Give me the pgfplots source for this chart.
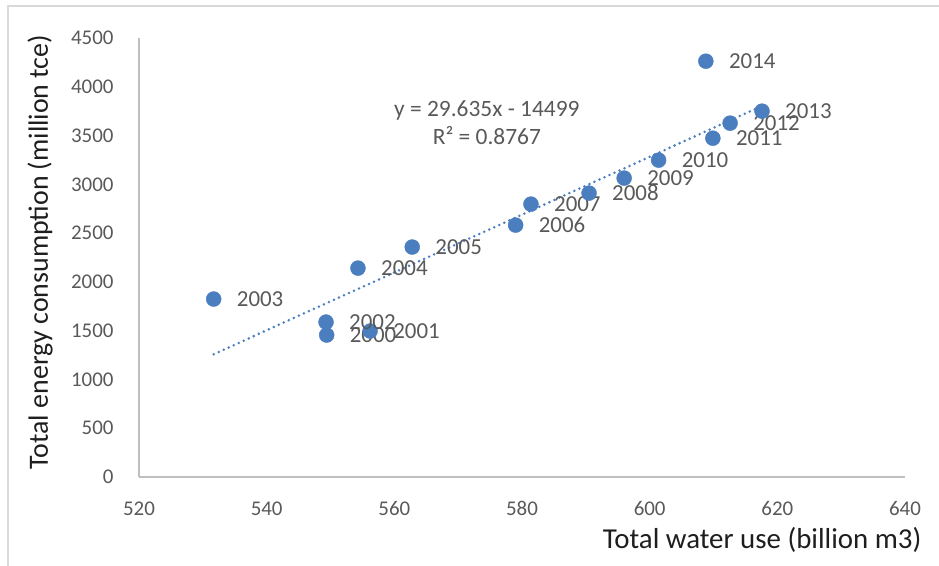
\documentclass[border=0pt]{standalone}
\usepackage{fontspec}
\setmainfont{Carlito}
\usepackage{pgfplots}
\pgfplotsset{compat=1.18}
\definecolor{ptblue}{RGB}{74,126,190}
\definecolor{ticktext}{RGB}{89,89,89}
\definecolor{axisline}{RGB}{191,191,191}
\definecolor{titletext}{RGB}{30,30,30}
\begin{document}
\begin{tikzpicture}[x=1bp,y=1bp]
\useasboundingbox (0,0) rectangle (939,566);
\draw[color=black!15, line width=2bp] (8,0) -- (8,560) -- (939,560);
\begin{axis}[
  at={(139bp,89bp)}, anchor=south west,
  scale only axis, width=766bp, height=439bp,
  xmin=520, xmax=640, ymin=0, ymax=4500,
  xtick={520,540,...,640}, ytick={0,500,...,4500},
  axis x line*=bottom, axis y line*=left,
  axis line style={axisline, line width=1.3bp, -},
  major tick length=0pt,
  tick label style={font=\fontsize{21}{25}\selectfont, text=ticktext},
  /pgf/number format/assume math mode=true,
  /pgf/number format/1000 sep={},
  xticklabel style={anchor=north, yshift=-21bp},
  yticklabel style={anchor=east, xshift=-22bp},
  clip=false,
]
\addplot[ptblue, line width=2.8bp, dash pattern=on 0bp off 5.5bp, line cap=round]
  coordinates {(531.7,1257.9) (617.6,3803.6)};
\addplot[only marks, mark=*, mark size=7.5bp, color=ptblue,
  nodes near coords, point meta=explicit symbolic,
  every node near coord/.append style={anchor=west, inner sep=0pt, xshift=23bp,
    font=\fontsize{23}{27}\selectfont, text=ticktext}]
  table[meta=label] {
x y label
549.4 1455 2000
556.2 1496 2001
549.3 1588 2002
531.7 1824 2003
554.3 2141 2004
562.8 2357 2005
579.0 2582 2006
581.4 2797 2007
590.5 2910 2008
596.0 3064 2009
601.4 3248 2010
609.9 3473 2011
612.6 3627 2012
617.6 3750 2013
608.8 4262 2014
};
\node[text=ticktext, font=\fontsize{23.5}{29}\selectfont, align=center]
  at (axis cs:574.5,3632) {y = 29.635x - 14499\\R² = 0.8767};
\end{axis}
\node[rotate=90, text=titletext, font=\fontsize{28}{32}\selectfont] at (40,314)
  {Total energy consumption (million tce)};
\node[anchor=east, text=titletext, font=\fontsize{29}{33}\selectfont] at (925,26)
  {Total water use (billion m3)};
\end{tikzpicture}
\end{document}
